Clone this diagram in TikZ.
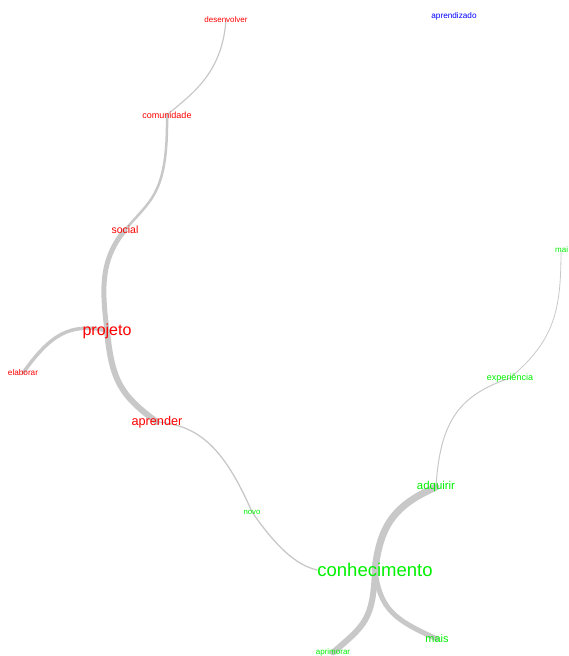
\documentclass[tikz,border=0pt]{standalone}
\usepackage{fontspec}
\setmainfont{Liberation Sans}
\usetikzlibrary{backgrounds}
\definecolor{wred}{RGB}{255,0,0}
\definecolor{wgreen}{RGB}{0,240,0}
\definecolor{wblue}{RGB}{0,0,255}
\definecolor{wedge}{RGB}{200,200,200}
\tikzset{
  word/.style={inner sep=0pt, font=\fontsize{#1}{#1}\selectfont},
  rw/.style={word=#1, text=wred},
  gw/.style={word=#1, text=wgreen},
  bw/.style={word=#1, text=wblue},
  link/.style={draw=wedge, line width=#1, line cap=round},
}
\begin{document}
\begin{tikzpicture}[x=1pt,y=-1pt]
\useasboundingbox (0,0) rectangle (568,656);
\clip (0,0) rectangle (568,656);
% words
\node[rw=8] (desenvolver) at (226,20) {desenvolver};
\node[bw=8.2] (aprendizado) at (454,16) {aprendizado};
\node[rw=9] (comunidade) at (167,115) {comunidade};
\node[rw=10.5] (social) at (125,230) {social};
\node[rw=16] (projeto) at (107,331) {projeto};
\node[rw=8.2] (elaborar) at (23,373) {elaborar};
\node[rw=12.7] (aprender) at (157,422) {aprender};
\node[gw=7.8] (novo) at (252,512) {novo};
\node[gw=18.5] (conhecimento) at (375,570) {conhecimento};
\node[gw=11.4] (adquirir) at (436,487) {adquirir};
\node[gw=9] (experiencia) at (510,378) {experiência};
\node[gw=8, anchor=west] (mai) at (555,250) {mai};
\node[gw=10.9] (mais) at (437,639) {mais};
\node[gw=8] (aprimorar) at (333,652.5) {aprimorar};
% links
\begin{scope}[on background layer]
\draw[link=1.2] (desenvolver.center) .. controls (222,75) and (190,95) .. (comunidade.center);
\draw[link=2.5] (comunidade.center) .. controls (168,195) and (150,200) .. (social.center);
\draw[link=5] (social.center) .. controls (100,260) and (102,290) .. (projeto.center);
\draw[link=6] (projeto.center) .. controls (112,380) and (120,395) .. (aprender.center);
\draw[link=3.5] (projeto.center) .. controls (70,322) and (50,335) .. (elaborar.center);
\draw[link=1.3] (aprender.center) .. controls (200,425) and (225,450) .. (novo.center);
\draw[link=1.3] (novo.center) .. controls (275,545) and (295,565) .. (conhecimento.west);
\draw[link=7] (conhecimento.center) .. controls (380,525) and (395,505) .. (adquirir.center);
\draw[link=5] (conhecimento.center) .. controls (380,610) and (395,620) .. (mais.center);
\draw[link=6] (conhecimento.center) .. controls (373,620) and (365,625) .. (aprimorar.center);
\draw[link=1] (adquirir.center) .. controls (440,420) and (460,395) .. (experiencia.center);
\draw[link=0.8] (experiencia.center) .. controls (555,340) and (561,310) .. (mai.west -| 561,255);
\end{scope}
\end{tikzpicture}
\end{document}
